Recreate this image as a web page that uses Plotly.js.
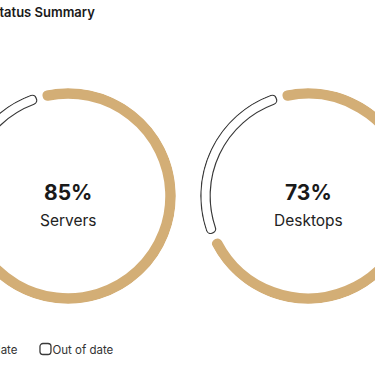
<!DOCTYPE html>
<html>
<head>
<meta charset="utf-8">
<script src="https://cdn.plot.ly/plotly-3.0.1.min.js"></script>
<style>
  html, body { margin: 0; padding: 0; background: #fff; overflow: hidden; width: 375px; height: 366px; }
  #chart { position: absolute; left: -80px; top: 0; width: 536px; height: 366px; }
  #chart path { stroke-linejoin: round; }
</style>
</head>
<body>
<div id="chart"></div>
<script>
// ---- data ----
const chartTitle = 'Status Summary';
const categories = ['Servers', 'Desktops'];
const seriesNames = ['Up to date', 'Out of date'];
const upToDate = [85, 73];
const outOfDate = [15, 27];

// ---- style / layout constants ----
const TAN = '#D3AE76';
const DARK = '#3a3a3a';
const FONT = 'Inter, "Open Sans", sans-serif';
const W = 536, H = 366, OFF = 80;
const CENTERS_X = [68, 308];   // page px
const CENTER_Y = 196;
const R = 108;                 // polar radius px
const START = 344;             // deg clockwise from top
const GAP = 8.7;               // deg between segments
const R_BASE = 102, R_THICK = 1, STROKE = 9.5, BORDER = 1.2;
const LEGEND_TEXT_X = 27;      // icon-to-text spacing inside a legend item
const LEGEND_ITEM_GAP = 35;    // from start of one legend text's end to next item origin

function domainFor(cx) {
  return {
    x: [(cx + OFF - R) / W, (cx + OFF + R) / W],
    y: [1 - (CENTER_Y + R) / H, 1 - (CENTER_Y - R) / H]
  };
}

const data = [];
const annotations = [];
const layout = {
  width: W, height: H,
  margin: {l: 0, r: 0, t: 0, b: 0},
  paper_bgcolor: '#fff',
  font: {family: FONT, color: '#222'},
  title: {
    text: chartTitle, xref: 'container', yref: 'container',
    x: 71 / W, xanchor: 'left', y: 1 - 12 / H, yanchor: 'middle',
    font: {family: FONT, size: 13, weight: 600, color: '#1a1a1a'}
  },
  showlegend: true,
  legend: {
    orientation: 'h', x: 14 / W, xanchor: 'left', y: 1 - 349 / H, yanchor: 'middle',
    font: {family: FONT, size: 11.5, color: '#333'}, bgcolor: 'rgba(0,0,0,0)'
  },
  annotations: annotations
};

categories.forEach((cat, i) => {
  const sub = i === 0 ? 'polar' : 'polar' + (i + 1);
  const u = upToDate[i], o = outOfDate[i];
  layout[sub] = {
    domain: domainFor(CENTERS_X[i]),
    hole: 0,
    bgcolor: 'rgba(0,0,0,0)',
    barmode: 'overlay',
    radialaxis: {visible: false, range: [0, R]},
    angularaxis: {visible: false, rotation: 90, direction: 'clockwise'}
  };

  data.push({
    type: 'barpolar', subplot: sub, name: seriesNames[0],
    r: [R_THICK], base: [R_BASE], theta: [START + u * 1.8], width: [u * 3.6 - GAP],
    marker: {color: TAN, line: {color: TAN, width: STROKE}},
    showlegend: i === 0, hoverinfo: 'skip'
  });
  data.push({
    type: 'barpolar', subplot: sub, name: seriesNames[1],
    r: [R_THICK], base: [R_BASE], theta: [START + u * 3.6 + o * 1.8], width: [o * 3.6 - GAP],
    marker: {color: DARK, line: {color: DARK, width: STROKE}},
    showlegend: i === 0, hoverinfo: 'skip'
  });
  data.push({
    type: 'barpolar', subplot: sub, name: seriesNames[1],
    r: [R_THICK], base: [R_BASE], theta: [START + u * 3.6 + o * 1.8], width: [o * 3.6 - GAP],
    marker: {color: '#fff', line: {color: '#fff', width: STROKE - 2 * BORDER}},
    showlegend: false, hoverinfo: 'skip'
  });

  const xPaper = (CENTERS_X[i] + OFF) / W;
  annotations.push({
    text: u + '%', xref: 'paper', yref: 'paper', x: xPaper, y: 1 - 192 / H,
    xanchor: 'center', yanchor: 'middle', showarrow: false,
    font: {family: FONT, size: 21, weight: 700, color: '#1a1a1a'}
  });
  annotations.push({
    text: cat, xref: 'paper', yref: 'paper', x: xPaper, y: 1 - 220 / H,
    xanchor: 'center', yanchor: 'middle', showarrow: false,
    font: {family: FONT, size: 15.5, color: '#222'}
  });
});

function parseTranslate(el) {
  const m = /translate\(\s*([-\d.e]+)[ ,]+([-\d.e]+)/.exec(el.getAttribute('transform') || '');
  return m ? [parseFloat(m[1]), parseFloat(m[2])] : [0, 0];
}

const gd = document.getElementById('chart');
Plotly.newPlot(gd, data, layout, {displayModeBar: false, staticPlot: true}).then(() => {
  const items = Array.from(gd.querySelectorAll('.legend .traces'));
  let nextX = null;
  items.forEach(t => {
    const textEl = t.querySelector('.legendtext');
    const label = textEl.textContent;
    textEl.setAttribute('x', LEGEND_TEXT_X);
    const [tx, ty] = parseTranslate(t);
    const x = nextX === null ? tx : nextX;
    t.setAttribute('transform', 'translate(' + x + ',' + ty + ')');
    nextX = x + textEl.getComputedTextLength() + LEGEND_ITEM_GAP;
    t.querySelectorAll('.legendpoints path').forEach(p => {
      p.setAttribute('d', 'M-2.5,-5.5H2.5A3,3 0 0 1 5.5,-2.5V2.5A3,3 0 0 1 2.5,5.5H-2.5A3,3 0 0 1 -5.5,2.5V-2.5A3,3 0 0 1 -2.5,-5.5Z');
      if (label === seriesNames[1]) {
        p.style.fill = '#fff';
        p.style.stroke = DARK;
        p.style.strokeWidth = '1.3px';
      } else {
        p.style.fill = TAN;
        p.style.stroke = TAN;
        p.style.strokeWidth = '1px';
      }
    });
  });
});
</script>
</body>
</html>
